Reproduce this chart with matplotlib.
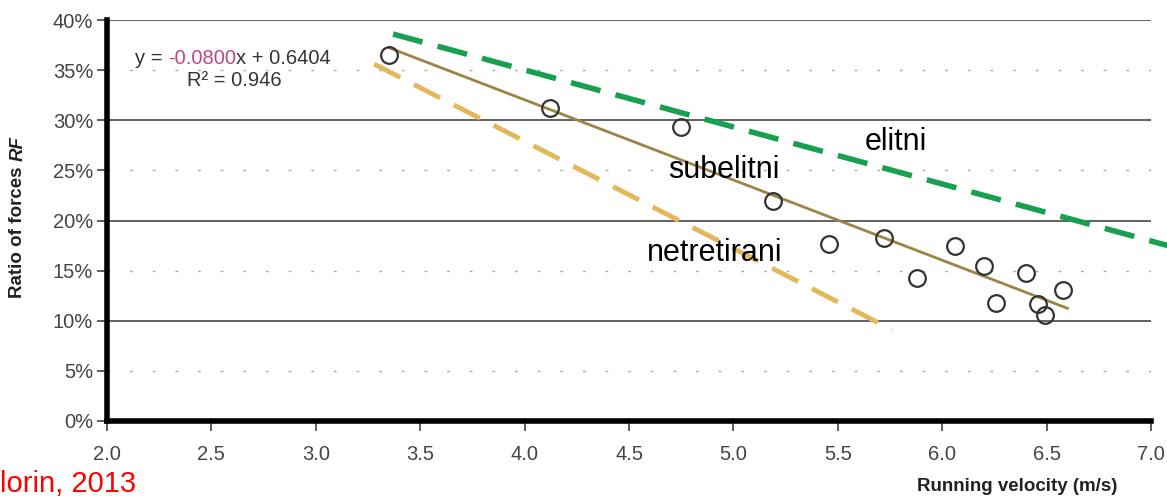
import matplotlib
matplotlib.use("Agg")
import matplotlib.pyplot as plt
import numpy as np
from matplotlib.ticker import FuncFormatter

# Data
velocity = [3.35, 4.12, 4.75, 5.19, 5.46, 5.72, 5.88, 6.06, 6.20, 6.26, 6.40, 6.46, 6.49, 6.58]
ratio = [0.365, 0.312, 0.293, 0.219, 0.177, 0.183, 0.143, 0.175, 0.155, 0.118, 0.148, 0.117, 0.106, 0.131]

fit_slope = -0.0800
fit_intercept = 0.6404
fit_x = [3.35, 6.60]

elite_x = [3.37, 7.08]
elite_y = [0.386, 0.175]
untrained_x = [3.28, 5.76]
untrained_y = [0.356, 0.091]

x_ticks = [2.0, 2.5, 3.0, 3.5, 4.0, 4.5, 5.0, 5.5, 6.0, 6.5, 7.0]
y_ticks = [0, 0.05, 0.10, 0.15, 0.20, 0.25, 0.30, 0.35, 0.40]
y_major_grid = [0.10, 0.20, 0.30, 0.40]
y_minor_grid = [0.05, 0.15, 0.25, 0.35]

plt.rcParams['font.family'] = ['Liberation Sans', 'DejaVu Sans']

W, H = 1167, 498
fig = plt.figure(figsize=(W / 100, H / 100), dpi=100)
ax = fig.add_axes([107 / W, 1 - 421 / H, (1151 - 107) / W, (421 - 20) / H])

ax.set_xlim(2.0, 7.0)
ax.set_ylim(0, 0.40)

for g in y_major_grid:
    ax.axhline(g, color='#555555', lw=1.3, zorder=1)
for g in y_minor_grid:
    ax.axhline(g, color='#aaaaaa', lw=1.0, ls=(0, (2, 14.3)), zorder=1)

# fit line
fx = np.array(fit_x)
ax.plot(fx, fit_slope * fx + fit_intercept, color='#9c8445', lw=2.0, zorder=3)

# elite & untrained dashed lines
ax.plot(elite_x, elite_y, color='#18a050', lw=4, ls=(0, (5.5, 2.8)), clip_on=False, zorder=3)
ax.plot(untrained_x, untrained_y, color='#e2b85a', lw=3.5, ls=(0, (6, 3.2)), zorder=3)

# data points
ax.plot(velocity, ratio, 'o', ms=12, mfc='none', mec='#333333', mew=1.6, zorder=4)

# spines
for s in ['top', 'right']:
    ax.spines[s].set_visible(False)
ax.spines['left'].set_linewidth(4)
ax.spines['bottom'].set_linewidth(4)
ax.spines['left'].set_color('black')
ax.spines['bottom'].set_color('black')

ax.set_xticks(x_ticks)
ax.set_xticklabels([f"{t:.1f}" for t in x_ticks])
ax.set_yticks(y_ticks)
ax.yaxis.set_major_formatter(FuncFormatter(lambda v, p: f"{v*100:.0f}%"))
ax.tick_params(axis='both', direction='out', length=7, width=1.2, color='#444444',
               labelcolor='#444444', labelsize=14.5)
ax.tick_params(axis='y', pad=3)
ax.tick_params(axis='x', pad=10)

# axis labels
fig.text(1117 / W, 1 - 486 / H, 'Running velocity (m/s)', ha='right', va='center',
         fontsize=13.5, fontweight='bold', color='#222222')
yl1 = ax.annotate('Ratio of forces ', xy=(18 / W, 1 - 298 / H), xycoords='figure fraction',
                  rotation=90, ha='center', va='bottom', fontsize=13.5, fontweight='bold',
                  color='#222222')
ax.annotate('RF', xy=(0.5, 1), xycoords=yl1, rotation=90, ha='center', va='bottom',
            fontsize=13.5, fontweight='bold', fontstyle='italic', color='#222222')

# equation
t1 = ax.annotate('y = ', xy=(135 / W, 1 - 58 / H), xycoords='figure fraction',
                 fontsize=14.5, color='#333333', va='center', ha='left')
t2 = ax.annotate('-0.0800', xy=(1, 0), xycoords=t1, fontsize=14.5, color='#c0458a',
                 va='bottom', ha='left')
t3 = ax.annotate('x + 0.6404', xy=(1, 0), xycoords=t2, fontsize=14.5, color='#333333',
                 va='bottom', ha='left')
fig.text(187 / W, 1 - 80 / H, 'R² = 0.946', fontsize=14.5, color='#333333', va='center', ha='left')

# group labels
fig.text(896 / W, 1 - 142 / H, 'elitni', fontsize=22, ha='center', va='center', color='black')
fig.text(724 / W, 1 - 170 / H, 'subelitni', fontsize=22, ha='center', va='center', color='black')
fig.text(715 / W, 1 - 253 / H, 'netretirani', fontsize=22, ha='center', va='center', color='black')

# source
fig.text(0, 0.5 / H, 'lorin, 2013', fontsize=21, color='red', ha='left', va='bottom')

fig.savefig('out.png', dpi=100)
